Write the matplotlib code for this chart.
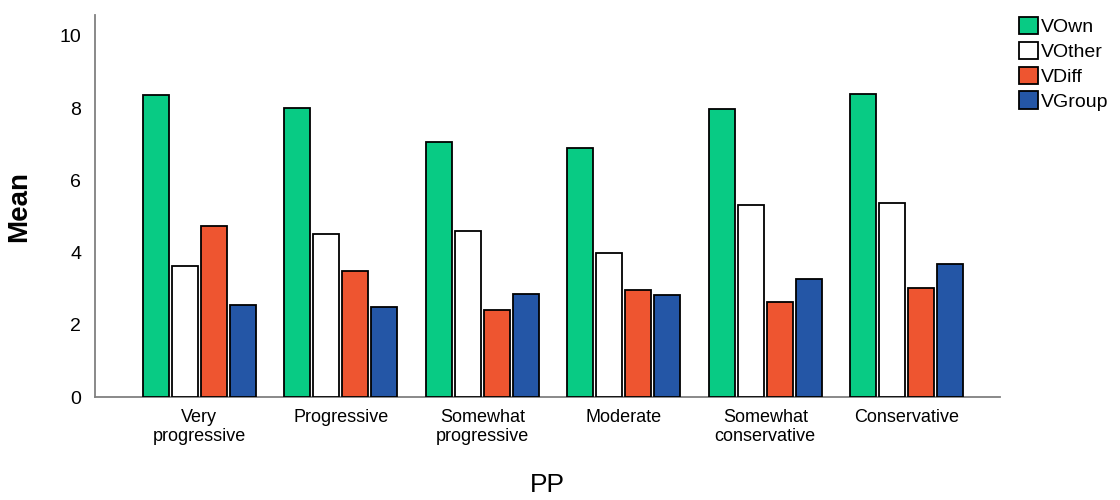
import matplotlib

matplotlib.use("Agg")
import matplotlib.pyplot as plt  # noqa: E402
import numpy as np  # noqa: E402

categories = ["Very\nprogressive", "Progressive", "Somewhat\nprogressive", "Moderate",
              "Somewhat\nconservative", "Conservative"]
series_names = ["VOwn", "VOther", "VDiff", "VGroup"]
v_own = [8.37, 8.01, 7.06, 6.91, 7.97, 8.39]
v_other = [3.64, 4.52, 4.60, 3.98, 5.31, 5.36]
v_diff = [4.74, 3.50, 2.42, 2.95, 2.64, 3.01]
v_group = [2.55, 2.50, 2.85, 2.83, 3.28, 3.68]
colors = ["#08CB84", "#FFFFFF", "#EE5530", "#2456A6"]

plt.rcParams["font.family"] = ["Liberation Sans", "DejaVu Sans"]

fig = plt.figure(figsize=(11.2, 5.0), dpi=100)
ax = fig.add_axes([0.085, 0.206, 0.808, 0.764])

x = np.arange(len(categories))
step = 0.205
width = 0.185
for i, (name, vals) in enumerate(zip(series_names, [v_own, v_other, v_diff, v_group])):
    ax.bar(x + (i - 1.5) * step, vals, width=width, color=colors[i], edgecolor="black",
           linewidth=1.3, label=name, zorder=3)

ax.set_xlim(-0.735, 5.66)
ax.set_ylim(0, 10.58)
ax.set_yticks([0, 2, 4, 6, 8, 10])
ax.tick_params(axis="y", length=0, labelsize=14, pad=10)
ax.tick_params(axis="x", length=0, labelsize=13, pad=9)
ax.set_xticks(x)
ax.set_xticklabels(categories, linespacing=1.1)
for s in ["top", "right"]:
    ax.spines[s].set_visible(False)
for s in ["left", "bottom"]:
    ax.spines[s].set_color("#808080")
    ax.spines[s].set_linewidth(1.3)

ax.set_ylabel("Mean", fontsize=20, fontweight="bold", labelpad=20)
ax.set_xlabel("PP", fontsize=19, labelpad=20)

leg = ax.legend(loc="upper left", bbox_to_anchor=(1.012, 1.015), frameon=False, fontsize=14,
                handlelength=1.0, handleheight=1.0, handletextpad=0.15, labelspacing=0.28,
                borderaxespad=0.0)

fig.savefig("out.png")
